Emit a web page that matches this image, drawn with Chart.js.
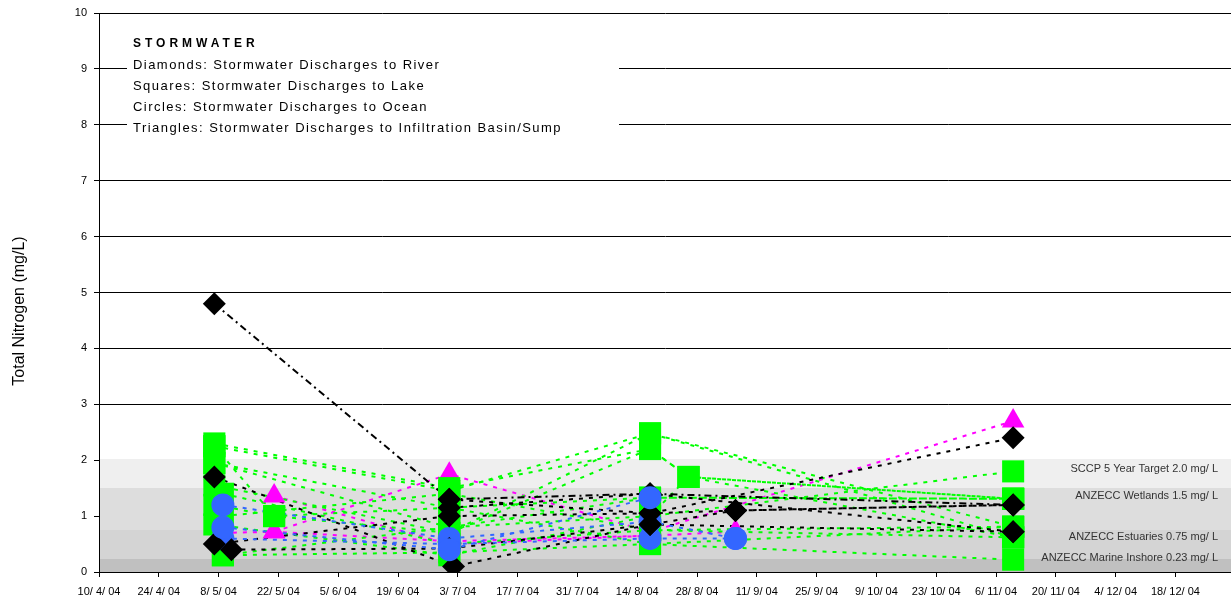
<!DOCTYPE html>
<html>
<head>
<meta charset="utf-8">
<title>Stormwater Total Nitrogen</title>
<script src="https://cdn.jsdelivr.net/npm/chart.js@4.4.1/dist/chart.umd.min.js"></script>
<style>
  html, body { margin: 0; padding: 0; background: #ffffff; overflow: hidden; }
  #wrap { width: 1231px; height: 602px; position: relative; overflow: hidden; }
  #chart { display: block; width: 1231px; height: 602px; }
</style>
</head>
<body>
<div id="wrap"><canvas id="chart" width="1231" height="602"></canvas></div>
<script>
// ---- data -------------------------------------------------------------
const tickLabels = ['10/ 4/ 04', '24/ 4/ 04', '8/ 5/ 04', '22/ 5/ 04', '5/ 6/ 04', '19/ 6/ 04',
  '3/ 7/ 04', '17/ 7/ 04', '31/ 7/ 04', '14/ 8/ 04', '28/ 8/ 04', '11/ 9/ 04', '25/ 9/ 04',
  '9/ 10/ 04', '23/ 10/ 04', '6/ 11/ 04', '20/ 11/ 04', '4/ 12/ 04', '18/ 12/ 04'];
const axisEnd = '31/12/04';

// Each site: [sample date, total nitrogen mg/L]
const riverSites = [
  [['7/5/04', 4.8], ['1/7/04', 1.3], ['17/8/04', 1.4], ['10/11/04', 1.2]],
  [['7/5/04', 1.7], ['2/7/04', 0.1], ['17/8/04', 0.85], ['6/9/04', 1.1], ['10/11/04', 1.2]],
  [['11/5/04', 0.4], ['1/7/04', 0.42], ['17/8/04', 0.85], ['10/11/04', 0.72]],
  [['7/5/04', 0.5], ['1/7/04', 1.0], ['17/8/04', 1.05], ['10/11/04', 2.4]],
  [['1/7/04', 1.15], ['17/8/04', 1.4], ['10/11/04', 0.72]],
  [['1/7/04', 1.3], ['17/8/04', 1.05], ['6/9/04', 1.1], ['10/11/04', 1.2]]
];
const lakeSites = [
  [['7/5/04', 2.3], ['1/7/04', 1.5], ['17/8/04', 2.2], ['26/8/04', 1.7], ['10/11/04', 1.31]],
  [['7/5/04', 2.25], ['1/7/04', 1.45], ['17/8/04', 2.48], ['10/11/04', 0.62]],
  [['7/5/04', 1.95], ['1/7/04', 0.8], ['17/8/04', 1.0], ['10/11/04', 1.8]],
  [['7/5/04', 1.55], ['1/7/04', 0.7], ['17/8/04', 2.48], ['10/11/04', 0.81]],
  [['7/5/04', 1.2], ['21/5/04', 1.0], ['1/7/04', 1.15], ['17/8/04', 1.33], ['10/11/04', 1.31]],
  [['9/5/04', 0.3], ['1/7/04', 0.35], ['17/8/04', 0.5], ['10/11/04', 0.22]],
  [['9/5/04', 1.4], ['1/7/04', 0.5], ['17/8/04', 0.75], ['10/11/04', 0.81]],
  [['7/5/04', 0.85], ['1/7/04', 0.3], ['17/8/04', 1.0], ['26/8/04', 1.7], ['10/11/04', 1.31]],
  [['9/5/04', 1.0], ['1/7/04', 1.4], ['17/8/04', 0.75], ['10/11/04', 0.62]],
  [['7/5/04', 1.95], ['1/7/04', 1.15], ['17/8/04', 0.5], ['10/11/04', 0.81]],
  [['9/5/04', 0.3], ['1/7/04', 0.8], ['17/8/04', 1.33], ['10/11/04', 1.31]],
  [['7/5/04', 2.25], ['21/5/04', 1.0], ['1/7/04', 0.7], ['17/8/04', 2.2], ['26/8/04', 1.7], ['10/11/04', 0.62]]
];
const oceanSites = [
  [['9/5/04', 0.8], ['1/7/04', 0.4], ['17/8/04', 1.33]],
  [['9/5/04', 1.2], ['1/7/04', 0.6], ['17/8/04', 0.9], ['6/9/04', 0.6]],
  [['9/5/04', 0.6], ['1/7/04', 0.5], ['17/8/04', 0.6], ['6/9/04', 0.6]]
];
const basinSites = [
  [['21/5/04', 0.72], ['1/7/04', 1.75], ['17/8/04', 0.72], ['10/11/04', 2.7]],
  [['21/5/04', 1.36], ['1/7/04', 0.5], ['17/8/04', 0.65], ['6/9/04', 0.72]],
  [['9/5/04', 0.7], ['21/5/04', 0.72], ['1/7/04', 0.55], ['17/8/04', 0.65]]
];

// Guideline bands (mg/L) and their captions, lowest first
const bandLimits = [0, 0.23, 0.75, 1.5, 2.0];
const bandLabels = ['ANZECC Marine Inshore 0.23 mg/ L', 'ANZECC Estuaries 0.75 mg/ L',
  'ANZECC Wetlands 1.5 mg/ L', 'SCCP 5 Year Target 2.0 mg/ L'];

const keyTitle = 'STORMWATER';
const keyLines = ['Diamonds: Stormwater Discharges to River', 'Squares: Stormwater Discharges to Lake',
  'Circles: Stormwater Discharges to Ocean', 'Triangles: Stormwater Discharges to Infiltration Basin/Sump'];

const yTitle = 'Total Nitrogen (mg/L)';

// ---- helpers ----------------------------------------------------------
const EPOCH = Date.UTC(2004, 0, 1);
function dayOf(s) {
  const [d, m, y] = s.replace(/\s/g, '').split('/').map(Number);
  return Math.round((Date.UTC(2000 + y, m - 1, d) - EPOCH) / 86400000);
}
const tickDays = tickLabels.map(dayOf);

const FONT = "'Liberation Sans', Arial, Helvetica, sans-serif";
Chart.defaults.font.family = FONT;
Chart.defaults.color = '#000';

const groups = [
  { sites: oceanSites, style: 'circle', radius: 11.5, color: '#3366ff', order: [1, 3, 3] },
  { sites: riverSites, style: 'rectRot', radius: 11.5, color: '#000000', order: null },
  { sites: lakeSites, style: 'rect', radius: 15.6, color: '#00ff00', order: null },
  { sites: basinSites, style: 'triangle', radius: 13, color: '#ff00ff', order: null }
];
const groupOrder = { circle: 3, rectRot: 2, rect: 4, triangle: 5 };

const datasets = [];
groups.forEach(g => {
  g.sites.forEach((site, i) => {
    const pts = site.map(([d, v]) => ({ x: dayOf(d), y: v }));
    const dash = (g.sites === riverSites && i === 0) ? [7, 4, 2, 4] : [4, 6];
    datasets.push({
      data: pts, showLine: true, borderColor: g.color, borderWidth: 2, borderDash: dash,
      pointRadius: 0, pointHoverRadius: 0, fill: false, tension: 0, order: 50
    });
    datasets.push({
      data: pts, showLine: false, pointStyle: g.style, pointRadius: g.radius, pointHoverRadius: g.radius,
      pointBackgroundColor: g.color, pointBorderColor: g.color, pointBorderWidth: 0,
      order: g.order ? g.order[i] : groupOrder[g.style]
    });
  });
});

// ---- decorations: bands, key box, captions, axis title ----------------
const decor = {
  id: 'decor',
  beforeDatasetsDraw(chart) {
    const { ctx, chartArea: a, scales: { y } } = chart;
    ctx.save();
    const shades = ['#c0c0c0', '#d4d4d4', '#dddddd', '#efefef'];
    for (let i = 0; i < bandLimits.length - 1; i++) {
      const top = Math.round(y.getPixelForValue(bandLimits[i + 1])) - (i === bandLimits.length - 2 ? 1 : 0);
      const bot = Math.round(y.getPixelForValue(bandLimits[i]));
      ctx.fillStyle = shades[i];
      ctx.fillRect(a.left + 1, top, a.right - a.left - 1, bot - top);
    }
    // key box
    ctx.fillStyle = '#ffffff';
    ctx.fillRect(a.left + 28, 30, 492, 110);
    ctx.fillStyle = '#000';
    ctx.textBaseline = 'middle';
    ctx.textAlign = 'left';
    ctx.font = 'bold 12px ' + FONT;
    ctx.letterSpacing = '4px';
    ctx.fillText(keyTitle, 133, 44);
    ctx.font = '13px ' + FONT;
    ctx.letterSpacing = '1.45px';
    keyLines.forEach((t, i) => ctx.fillText(t, 133, 65 + i * 21.3));
    ctx.letterSpacing = '0px';
    // y axis title
    ctx.translate(20, 311);
    ctx.rotate(-Math.PI / 2);
    ctx.textAlign = 'center';
    ctx.font = '16px ' + FONT;
    ctx.fillText(yTitle, 0, 0);
    ctx.restore();
  },
  afterDatasetsDraw(chart) {
    const { ctx, chartArea: a, scales: { y } } = chart;
    ctx.save();
    ctx.font = '11px ' + FONT;
    ctx.fillStyle = '#333333';
    ctx.textAlign = 'right';
    ctx.textBaseline = 'middle';
    const offsets = [-1, 7, 8, 9];
    for (let i = 0; i < bandLabels.length; i++) {
      const yy = y.getPixelForValue(bandLimits[i + 1]) + offsets[i];
      ctx.fillText(bandLabels[i], a.right - 13, yy);
    }
    ctx.restore();
  }
};

new Chart(document.getElementById('chart'), {
  type: 'scatter',
  data: { datasets },
  options: {
    responsive: false,
    animation: false,
    events: [],
    layout: { autoPadding: false, padding: { top: 13, right: 0, left: 0, bottom: 0 } },
    plugins: { legend: { display: false }, tooltip: { enabled: false } },
    scales: {
      x: {
        type: 'linear',
        min: tickDays[0],
        max: dayOf(axisEnd),
        afterBuildTicks: s => { s.ticks = tickDays.map(v => ({ value: v })); },
        afterFit: s => { s.height = 30; s.paddingRight = 0; s.paddingLeft = 0; },
        ticks: {
          autoSkip: false, maxRotation: 0, minRotation: 0, padding: 8,
          font: { size: 11 }, color: '#000',
          callback: v => tickLabels[tickDays.indexOf(v)]
        },
        grid: { drawOnChartArea: false, drawTicks: true, tickLength: 5, tickColor: '#000', color: '#000' },
        border: { color: '#000', width: 1 }
      },
      y: {
        min: 0, max: 10,
        afterFit: s => { s.width = 99; s.paddingTop = 0; s.paddingBottom = 0; },
        ticks: { stepSize: 1, padding: 7, font: { size: 11 }, color: '#000' },
        grid: {
          drawTicks: true, tickLength: 5, tickColor: '#000',
          color: c => (c.tick && c.tick.value > 0 && c.tick.value <= bandLimits[bandLimits.length - 1]) ? 'rgba(0,0,0,0)' : '#000'
        },
        border: { color: '#000', width: 1 }
      }
    }
  },
  plugins: [decor]
});
</script>
</body>
</html>
